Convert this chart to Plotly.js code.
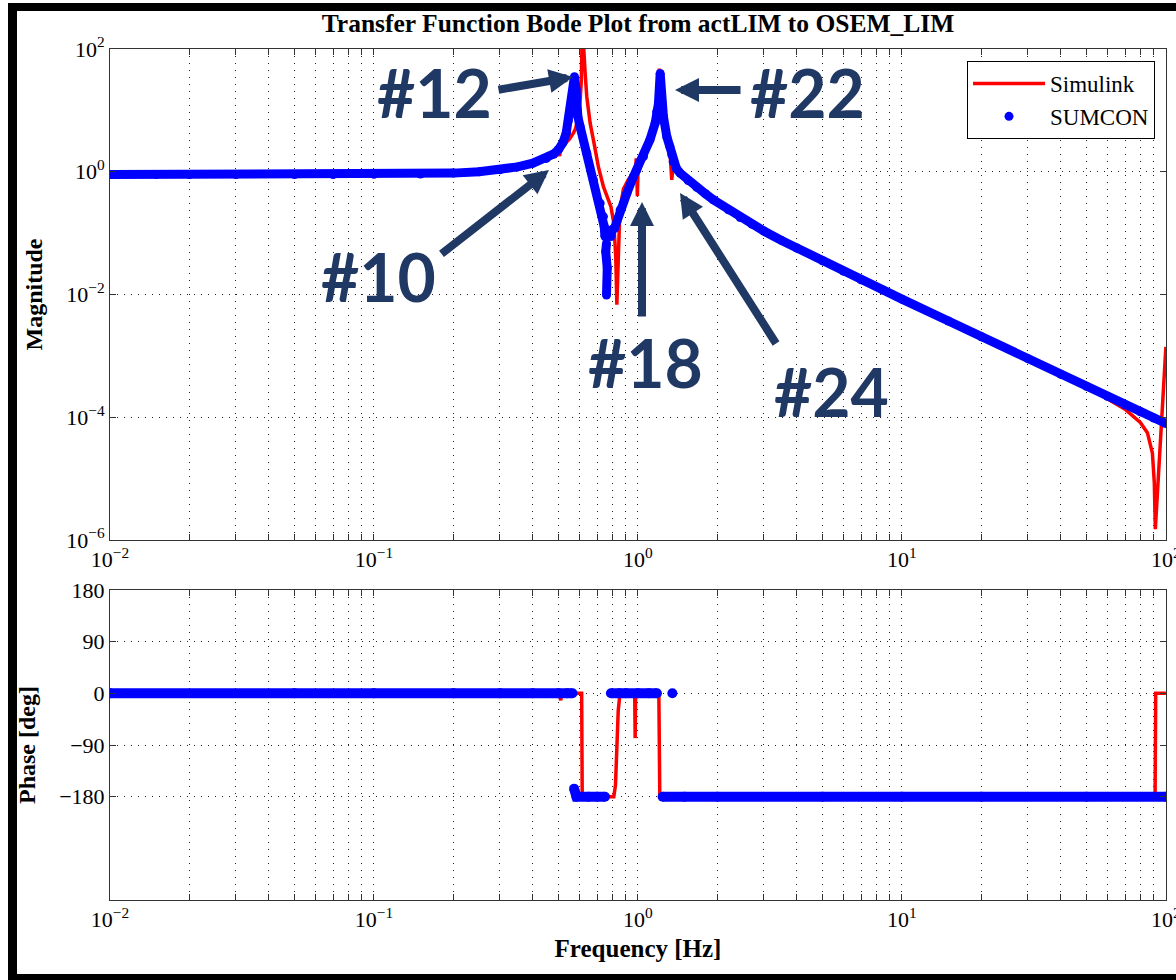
<!DOCTYPE html>
<html><head><meta charset="utf-8">
<script src="https://cdn.plot.ly/plotly-3.0.1.min.js"></script>
<style>
html,body{margin:0;padding:0;background:#fff;}
#wrap{position:relative;width:1176px;height:980px;overflow:hidden;}
#chart{position:absolute;left:0;top:0;width:1176px;height:980px;}
.bar{position:absolute;background:#000;pointer-events:none;}
</style></head><body>
<div id="wrap"><div id="chart"></div>
<div class="bar" style="left:8px;top:3px;width:9px;height:977px"></div>
<div class="bar" style="left:8px;top:3px;width:1168px;height:8px"></div>
<div class="bar" style="left:8px;top:974px;width:1168px;height:6px"></div>
</div>
<script>
// ---------- data ----------
const decades = [0.01, 0.1, 1, 10, 100];
const decadeLabels = ['10<sup>−2</sup>', '10<sup>−1</sup>', '10<sup>0</sup>', '10<sup>1</sup>', '10<sup>2</sup>'];
const magTickVals = [1e-6, 1e-4, 1e-2, 1, 100];
const magTickText = ['10<sup>−6</sup>', '10<sup>−4</sup>', '10<sup>−2</sup>', '10<sup>0</sup>', '10<sup>2</sup>'];
const phaseTickVals = [-180, -90, 0, 90, 180];
const phaseTickText = ['−180', '−90', '0', '90', '180'];

// Simulink magnitude (red line)
const simFreq = [0.01, 0.02, 0.05, 0.1, 0.15, 0.2, 0.25, 0.3, 0.35, 0.4, 0.45, 0.48, 0.50, 0.505, 0.51, 0.53, 0.55, 0.57, 0.58, 0.59, 0.60, 0.605, 0.61, 0.614, 0.617, 0.622, 0.625, 0.631, 0.640, 0.659, 0.678, 0.708, 0.740, 0.790, 0.810, 0.824, 0.832, 0.840, 0.851, 0.862, 0.881, 0.92, 0.96, 0.98, 0.985, 0.99, 0.995, 1.0, 1.05, 1.1, 1.15, 1.18, 1.195, 1.205, 1.215, 1.23, 1.26, 1.3, 1.32, 1.343, 1.36, 1.40, 1.445, 1.55, 1.67, 1.8, 1.93, 2.2, 2.44, 2.7, 3, 3.5, 4, 5, 6, 7, 8.5, 10, 15, 20, 30, 40, 50, 60, 70, 80, 85.1, 88.9, 90.4, 91.2, 93, 95, 97, 100];
const simMag = [0.89, 0.89, 0.89, 0.90, 0.91, 0.94, 0.99, 1.07, 1.19, 1.37, 1.63, 1.93, 2.2, 1.8, 2.5, 2.9, 3.4, 4.3, 5.0, 7.0, 11, 16, 30, 90, 400, 120, 70, 40, 16.7, 6.2, 3.3, 1.21, 0.57, 0.27, 0.146, 0.041, 0.0068, 0.041, 0.146, 0.3, 0.52, 0.75, 0.95, 1.15, 1.65, 0.9, 0.4, 0.95, 1.6, 3.0, 6, 11, 22, 48, 22, 11, 5.5, 3.2, 2.4, 0.74, 1.35, 1.1, 0.94, 0.71, 0.55, 0.43, 0.345, 0.235, 0.177, 0.138, 0.106, 0.075, 0.056, 0.035, 0.0238, 0.0172, 0.0116, 0.0083, 0.0037, 0.00205, 0.00089, 0.00049, 0.00031, 0.0002, 0.000135, 0.000082, 0.000056, 0.000026, 0.0000085, 0.0000015, 0.0000062, 0.000027, 0.00012, 0.0014];

// SUMCON magnitude (blue dots); null separates dot groups
const sumconFreq = [0.01, 0.015, 0.02, 0.03, 0.05, 0.07, 0.1, 0.15, 0.2, 0.25, 0.3, 0.35, 0.4, 0.45, 0.48, 0.50, 0.52, 0.535, 0.545, 0.557, 0.562, 0.570, 0.5747, 0.583, 0.585, 0.592, 0.604, 0.640, 0.678, 0.719, 0.740, 0.745, 0.750, null, 0.760, 0.755, 0.765, 0.760, null, 0.790, 0.796, 0.815, 0.856, 0.908, 0.961, 0.99, 1.049, 1.11, 1.162, 1.178, 1.196, 1.214, 1.23, 1.249, 1.287, 1.32, 1.343, 1.36, 1.40, 1.445, 1.55, 1.67, 1.8, 1.93, 2.2, 2.44, 2.7, 3, 3.5, 4, 5, 6, 7, 8.5, 10, 15, 20, 30, 40, 50, 60, 70, 80, 90, 100];
const sumconMag = [0.9, 0.9, 0.9, 0.9, 0.9, 0.9, 0.91, 0.92, 0.95, 1.0, 1.08, 1.2, 1.38, 1.65, 1.95, 2.3, 3.0, 4.3, 6.8, 10.8, 15.7, 22, 35.4, 22, 12.2, 7.9, 5.4, 2.0, 0.73, 0.307, 0.186, 0.128, 0.088, null, 0.068, 0.050, 0.027, 0.0098, null, 0.088, 0.113, 0.12, 0.239, 0.447, 0.83, 1.07, 1.76, 3.3, 6.2, 9.5, 13, 40, 13, 7.9, 3.7, 2.6, 1.9, 1.45, 1.12, 0.95, 0.72, 0.56, 0.44, 0.35, 0.24, 0.18, 0.14, 0.108, 0.076, 0.057, 0.0355, 0.024, 0.0174, 0.0117, 0.0084, 0.0037, 0.00205, 0.0009, 0.0005, 0.00032, 0.00022, 0.00016, 0.000123, 0.000097, 0.000079];

// Simulink phase (red line)
const simPhaseFreq = [0.01, 0.1, 0.5, 0.505, 0.51, 0.515, 0.6, 0.612, 0.615, 0.8, 0.81, 0.822, 0.832, 0.842, 0.855, 0.9, 0.972, 0.976, 0.98, 1.1, 1.2, 1.21, 10, 50, 91, 91.5, 100];
const simPhase = [0, 0, 0, -5, -12, 0, 0, 0, -180, -180, -180, -160, -100, -30, 0, 0, 0, -78, 0, 0, 0, -180, -180, -180, -180, 0, 0];

// SUMCON phase (blue dots); null separates dot groups
const sumconPhaseFreq = [0.01, 0.05, 0.1, 0.2, 0.3, 0.4, 0.5, 0.54, 0.565, null, 0.573, 0.585, 0.65, 0.7, 0.75, null, 0.79, 0.85, 0.9, 1.0, 1.1, 1.18, null, 1.35, null, 1.24, 1.5, 2, 5, 10, 20, 50, 100];
const sumconPhase = [0, 0, 0, 0, 0, 0, 0, 0, 0, null, -166, -180, -180, -180, -180, null, 0, 0, 0, 0, 0, 0, null, 0, null, -180, -180, -180, -180, -180, -180, -180, -180];

// ---------- layout helpers ----------
const W = 1176, H = 980, mL = 110, mR = 10, mT = 49, mB = 80;
const plotW = W - mL - mR, plotH = H - mT - mB;
const px2paperX = px => (px - mL) / plotW;
const px2paperY = py => (H - mB - py) / plotH;

const xTickVals = [], xTickText = [];
decades.forEach((d, i) => {
  if (i < decades.length - 1) {
    for (let m = 1; m <= 9; m++) { xTickVals.push(d * m); xTickText.push(m === 1 ? decadeLabels[i] : ''); }
  } else { xTickVals.push(d); xTickText.push(decadeLabels[i]); }
});

const serif = 'Liberation Serif, Times New Roman, serif';
const gridStyle = { showgrid: true, gridcolor: '#222', griddash: '1px,6px', gridwidth: 1 };
const axisCommon = Object.assign({
  showline: true, linecolor: '#333', linewidth: 1, mirror: 'ticks',
  ticks: 'inside', ticklen: 6, tickcolor: '#333', zeroline: false,
  ticklabeloverflow: 'allow',
  tickfont: { family: serif, size: 22, color: '#000' }
}, gridStyle);

const xCommon = Object.assign({}, axisCommon, {
  type: 'log', range: [-2, 2.0004], tickmode: 'array', tickvals: xTickVals, ticktext: xTickText
});

const blue = '#0000FF', red = '#FF0000', navy = '#203864';

const traces = [
  { x: simFreq, y: simMag, xaxis: 'x', yaxis: 'y', mode: 'lines', name: 'Simulink',
    line: { color: red, width: 3.5 } },
  { x: sumconFreq, y: sumconMag, xaxis: 'x', yaxis: 'y', mode: 'lines', showlegend: false,
    connectgaps: false, line: { color: blue, width: 9 }, hoverinfo: 'skip' },
  { x: sumconFreq, y: sumconMag, xaxis: 'x', yaxis: 'y', mode: 'markers', name: 'SUMCON',
    marker: { color: blue, size: 9 } },
  { x: simPhaseFreq, y: simPhase, xaxis: 'x2', yaxis: 'y2', mode: 'lines', showlegend: false,
    line: { color: red, width: 3.5 } },
  { x: sumconPhaseFreq, y: sumconPhase, xaxis: 'x2', yaxis: 'y2', mode: 'lines', showlegend: false,
    connectgaps: false, line: { color: blue, width: 10 }, hoverinfo: 'skip' },
  { x: sumconPhaseFreq, y: sumconPhase, xaxis: 'x2', yaxis: 'y2', mode: 'markers', showlegend: false,
    marker: { color: blue, size: 10 } }
];

// callout labels and arrows (pixel positions of the picture)
const calloutText = ['#12', '#22', '#10', '#18', '#24'];
const calloutTextPos = [[434, 93], [807, 93], [378, 276], [645, 362], [831, 392]];
const calloutTip = [[573, 77], [675, 90], [549, 170], [642, 202], [680, 193]];
const calloutTail = [[497, 90], [742, 90], [440, 255], [642, 318], [777, 345]];

const annotations = [];
calloutText.forEach((t, i) => {
  annotations.push({
    xref: 'paper', yref: 'paper', x: px2paperX(calloutTextPos[i][0]), y: px2paperY(calloutTextPos[i][1]),
    text: '<b>' + t + '</b>', showarrow: false, xanchor: 'center', yanchor: 'middle',
    font: { family: 'Lato, Open Sans, sans-serif', size: 66, color: navy }
  });
  annotations.push({
    xref: 'paper', yref: 'paper', x: px2paperX(calloutTip[i][0]), y: px2paperY(calloutTip[i][1]),
    text: '', showarrow: true, arrowhead: 2, arrowsize: 0.6, arrowwidth: 8, arrowcolor: navy,
    axref: 'pixel', ayref: 'pixel',
    ax: calloutTail[i][0] - calloutTip[i][0], ay: calloutTail[i][1] - calloutTip[i][1]
  });
});

const layout = {
  width: W, height: H,
  margin: { l: mL, r: mR, t: mT, b: mB },
  paper_bgcolor: 'rgba(0,0,0,0)', plot_bgcolor: '#fff',
  font: { family: serif, color: '#000' },
  title: { text: '<b>Transfer Function Bode Plot from actLIM to OSEM_LIM</b>',
    font: { family: serif, size: 25.5, color: '#000' },
    xref: 'paper', x: 0.5, xanchor: 'center', yref: 'container', y: 1 - 23 / H, yanchor: 'middle' },
  showlegend: true,
  legend: { x: px2paperX(1155), xanchor: 'right', y: px2paperY(61), yanchor: 'top',
    bgcolor: '#fff', bordercolor: '#000', borderwidth: 1, itemwidth: 72,
    font: { family: serif, size: 23, color: '#000' } },
  xaxis: Object.assign({}, xCommon, { anchor: 'y', domain: [0, 1] }),
  yaxis: Object.assign({}, axisCommon, {
    type: 'log', range: [-6, 2], domain: [px2paperY(540), 1], anchor: 'x',
    tickmode: 'array', tickvals: magTickVals, ticktext: magTickText,
    title: { text: '<b>Magnitude</b>', font: { family: serif, size: 24, color: '#000' }, standoff: 16 }
  }),
  xaxis2: Object.assign({}, xCommon, { anchor: 'y2', domain: [0, 1],
    title: { text: '<b>Frequency [Hz]</b>', font: { family: serif, size: 25, color: '#000' }, standoff: 8 } }),
  yaxis2: Object.assign({}, axisCommon, {
    range: [-360, 180], domain: [0, px2paperY(590)], anchor: 'x2',
    tickmode: 'array', tickvals: phaseTickVals, ticktext: phaseTickText,
    title: { text: '<b>Phase [deg]</b>', font: { family: serif, size: 24, color: '#000' }, standoff: 16 }
  }),
  annotations: annotations
};

Plotly.newPlot('chart', traces, layout, { displayModeBar: false, staticPlot: true });
</script>
</body></html>
